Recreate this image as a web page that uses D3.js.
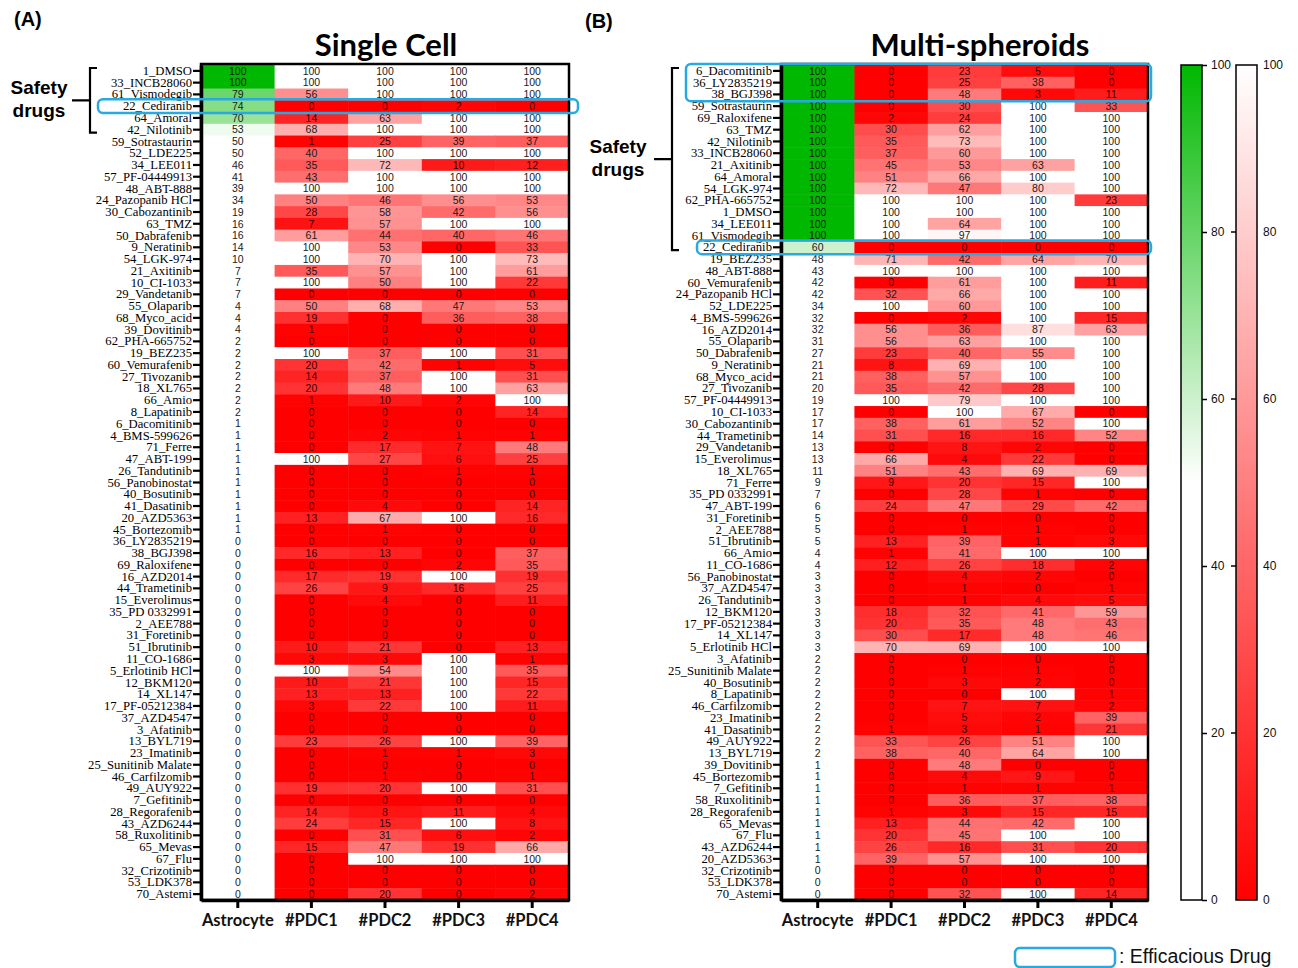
<!DOCTYPE html>
<html><head><meta charset="utf-8">
<script src="https://cdn.jsdelivr.net/npm/d3@7"></script>
<style>body{margin:0;background:#fff}</style>
</head><body>
<svg id="c" width="1298" height="968"></svg>
<script>
const columns = ["Astrocyte","#PDC1","#PDC2","#PDC3","#PDC4"];

const singleCellDrugs = ["1_DMSO","33_INCB28060","61_Vismodegib","22_Cediranib","64_Amoral","42_Nilotinib","59_Sotrastaurin","52_LDE225","34_LEE011","57_PF-04449913","48_ABT-888","24_Pazopanib HCl","30_Cabozantinib","63_TMZ","50_Dabrafenib","9_Neratinib","54_LGK-974","21_Axitinib","10_CI-1033","29_Vandetanib","55_Olaparib","68_Myco_acid","39_Dovitinib","62_PHA-665752","19_BEZ235","60_Vemurafenib","27_Tivozanib","18_XL765","66_Amio","8_Lapatinib","6_Dacomitinib","4_BMS-599626","71_Ferre","47_ABT-199","26_Tandutinib","56_Panobinostat","40_Bosutinib","41_Dasatinib","20_AZD5363","45_Bortezomib","36_LY2835219","38_BGJ398","69_Raloxifene","16_AZD2014","44_Trametinib","15_Everolimus","35_PD 0332991","2_AEE788","31_Foretinib","51_Ibrutinib","11_CO-1686","5_Erlotinib HCl","12_BKM120","14_XL147","17_PF-05212384","37_AZD4547","3_Afatinib","13_BYL719","23_Imatinib","25_Sunitinib Malate","46_Carfilzomib","49_AUY922","7_Gefitinib","28_Regorafenib","43_AZD6244","58_Ruxolitinib","65_Mevas","67_Flu","32_Crizotinib","53_LDK378","70_Astemi"];

const singleCellValues = [
[100,100,100,100,100],[100,100,100,100,100],[79,56,100,100,100],[74,0,0,2,0],[70,14,63,100,100],
[53,68,100,100,100],[50,1,25,39,37],[50,40,100,100,100],[46,35,72,10,12],[41,43,100,100,100],
[39,100,100,100,100],[34,50,46,56,53],[19,28,58,42,56],[16,7,57,100,100],[16,61,44,40,46],
[14,100,53,0,33],[10,100,70,100,73],[7,35,57,100,61],[7,100,50,100,22],[7,0,0,0,0],
[4,50,68,47,53],[4,19,0,36,38],[4,1,0,0,0],[2,0,0,0,0],[2,100,37,100,31],
[2,20,42,1,5],[2,14,37,100,31],[2,20,48,100,63],[2,1,10,2,100],[2,0,0,0,14],
[1,0,0,0,0],[1,0,2,1,1],[1,0,17,7,48],[1,100,27,6,25],[1,0,0,1,1],
[1,0,0,0,0],[1,0,0,0,0],[1,0,4,0,14],[1,13,67,100,16],[1,0,1,0,0],
[0,0,0,0,0],[0,16,13,0,37],[0,0,0,2,35],[0,17,19,100,19],[0,26,9,16,25],
[0,0,4,0,11],[0,0,0,0,0],[0,0,0,0,0],[0,0,0,0,0],[0,10,21,0,13],
[0,3,3,100,1],[0,100,54,100,35],[0,10,21,100,15],[0,13,13,100,22],[0,3,22,100,11],
[0,0,0,0,0],[0,0,0,0,0],[0,23,26,100,39],[0,0,1,1,3],[0,0,0,0,0],
[0,0,1,0,1],[0,19,20,100,31],[0,0,0,0,0],[0,14,8,11,4],[0,24,15,100,8],
[0,0,31,6,2],[0,15,47,19,66],[0,0,100,100,100],[0,0,0,0,0],[0,0,0,0,0],
[0,0,20,0,2]];

const spheroidDrugs = ["6_Dacomitinib","36_LY2835219","38_BGJ398","59_Sotrastaurin","69_Raloxifene","63_TMZ","42_Nilotinib","33_INCB28060","21_Axitinib","64_Amoral","54_LGK-974","62_PHA-665752","1_DMSO","34_LEE011","61_Vismodegib","22_Cediranib","19_BEZ235","48_ABT-888","60_Vemurafenib","24_Pazopanib HCl","52_LDE225","4_BMS-599626","16_AZD2014","55_Olaparib","50_Dabrafenib","9_Neratinib","68_Myco_acid","27_Tivozanib","57_PF-04449913","10_CI-1033","30_Cabozantinib","44_Trametinib","29_Vandetanib","15_Everolimus","18_XL765","71_Ferre","35_PD 0332991","47_ABT-199","31_Foretinib","2_AEE788","51_Ibrutinib","66_Amio","11_CO-1686","56_Panobinostat","37_AZD4547","26_Tandutinib","12_BKM120","17_PF-05212384","14_XL147","5_Erlotinib HCl","3_Afatinib","25_Sunitinib Malate","40_Bosutinib","8_Lapatinib","46_Carfilzomib","23_Imatinib","41_Dasatinib","49_AUY922","13_BYL719","39_Dovitinib","45_Bortezomib","7_Gefitinib","58_Ruxolitinib","28_Regorafenib","65_Mevas","67_Flu","43_AZD6244","20_AZD5363","32_Crizotinib","53_LDK378","70_Astemi"];

const spheroidValues = [
[100,0,23,5,0],[100,0,25,38,0],[100,0,48,3,11],[100,0,30,100,33],[100,2,24,100,100],
[100,30,62,100,100],[100,35,73,100,100],[100,37,60,100,100],[100,45,53,63,100],[100,51,66,100,100],
[100,72,47,80,100],[100,100,100,100,23],[100,100,100,100,100],[100,100,64,100,100],[100,100,97,100,100],
[60,0,0,0,0],[48,71,42,64,70],[43,100,100,100,100],[42,0,61,100,11],[42,32,66,100,100],
[34,100,60,100,100],[32,0,2,100,15],[32,56,36,87,63],[31,56,63,100,100],[27,23,40,55,100],
[21,8,69,100,100],[21,38,57,100,100],[20,35,42,28,100],[19,100,79,100,100],[17,0,100,67,0],
[17,38,61,52,100],[14,31,16,16,52],[13,0,8,2,0],[13,66,4,22,0],[11,51,43,69,69],
[9,9,20,15,100],[7,0,28,1,0],[6,24,47,29,42],[5,0,0,0,0],[5,0,1,1,0],
[5,13,39,1,3],[4,1,41,100,100],[4,12,26,18,2],[3,0,4,2,0],[3,0,1,0,1],
[3,0,1,4,5],[3,18,32,41,59],[3,20,35,48,43],[3,30,17,48,46],[3,70,69,100,100],
[2,0,0,0,0],[2,0,1,1,0],[2,0,3,2,0],[2,0,0,100,1],[2,0,7,7,2],
[2,0,5,2,39],[2,1,3,1,21],[2,33,26,51,100],[2,38,40,64,100],[1,0,48,0,0],
[1,0,4,9,0],[1,0,1,1,1],[1,0,36,37,38],[1,1,3,15,15],[1,13,44,42,100],
[1,20,45,100,100],[1,26,16,31,20],[1,39,57,100,100],[0,0,0,0,0],[0,0,0,0,0],
[0,0,32,100,14]];

const colorbarTicks = [0,20,40,60,80,100];
const efficaciousSingle = [["22_Cediranib","22_Cediranib"]];
const efficaciousSpheroid = [["6_Dacomitinib","38_BGJ398"],["22_Cediranib","22_Cediranib"]];

const svg = d3.select("#c");
const GREEN = "#00b800", BLUE = "#27aae1";
const green = d3.scaleLinear().domain([0,50,100]).range(["#ffffff","#ffffff",GREEN]).clamp(true);
const red = d3.scaleLinear().domain([0,100]).range(["#ff0000","#ffffff"]).clamp(true);

function heatmap(o){
  const x = d3.scaleBand().domain(columns).range([o.x0,o.x1]);
  const y = d3.scaleBand().domain(o.drugs).range([o.y0,o.y1]);
  const g = svg.append("g");
  const cells = [];
  o.values.forEach((row,i)=>row.forEach((v,j)=>cells.push({d:o.drugs[i],c:columns[j],v,j})));
  g.selectAll("rect.cell").data(cells).join("rect").attr("class","cell")
    .attr("x",d=>x(d.c)).attr("y",d=>y(d.d))
    .attr("width",x.bandwidth()+0.5).attr("height",y.bandwidth()+0.5)
    .attr("fill",d=>d.j===0?green(d.v):red(d.v));
  g.selectAll("text.val").data(cells).join("text").attr("class","val")
    .attr("x",d=>x(d.c)+x.bandwidth()/2).attr("y",d=>y(d.d)+y.bandwidth()/2)
    .attr("dy","0.36em").attr("text-anchor","middle")
    .attr("font-family","Liberation Sans, Arial, sans-serif").attr("font-size",10.5)
    .attr("fill",d=>(d.j>0&&d.v<30)?"#3a0000":"#1a1a1a").text(d=>d.v);
  g.append("rect").attr("x",o.x0).attr("y",o.y0-1).attr("width",o.x1-o.x0).attr("height",o.y1-o.y0+1)
    .attr("fill","none").attr("stroke","#000").attr("stroke-width",2.5);
  const ya = g.append("g").attr("transform",`translate(${o.x0},0)`)
    .call(d3.axisLeft(y).tickSize(8).tickSizeOuter(0).tickPadding(1));
  ya.select(".domain").attr("stroke-width",3.5);
  ya.selectAll(".tick line").attr("stroke-width",2.2);
  ya.selectAll("text").attr("font-family","Liberation Serif, Times New Roman, serif").attr("font-size",12.7).attr("fill","#000");
  const xa = g.append("g").attr("transform",`translate(0,${o.y1})`)
    .call(d3.axisBottom(x).tickSize(8).tickSizeOuter(0).tickPadding(6));
  xa.select(".domain").attr("stroke-width",3.5);
  xa.selectAll(".tick line").attr("stroke-width",3);
  xa.selectAll("text").attr("font-family","Lato, sans-serif").attr("font-weight","bold").attr("font-size",16.5).attr("fill","#111");
  svg.append("text").attr("x",o.tx).attr("y",56).attr("text-anchor","middle")
    .attr("font-family","Lato, sans-serif").attr("font-weight","bold").attr("font-size",31).text(o.title);
  o.boxes.forEach((b,k)=>{
    const top = y(b[0]) - 1, bot = y(b[1]) + y.bandwidth() + 1;
    const bx = o.boxX[k];
    svg.append("rect").attr("x",bx).attr("y",top).attr("width",o.boxR-bx).attr("height",bot-top)
      .attr("rx",5).attr("fill","none").attr("stroke",BLUE).attr("stroke-width",2.5);
  });
  const bt = y(o.drugs[0]) + 3, bb = y(o.drugs[o.safeEnd]) + y.bandwidth() - 3, bm = (bt+bb)/2;
  svg.append("path").attr("d",`M${o.bx+7},${bt} H${o.bx} V${bb} H${o.bx+7} M${o.bx},${bm} H${o.bx-18}`)
    .attr("fill","none").attr("stroke","#000").attr("stroke-width",2.2);
  svg.append("text").attr("x",o.sx).attr("y",bm-6).attr("text-anchor","middle")
    .attr("font-family","Liberation Sans, Arial, sans-serif").attr("font-weight","bold").attr("font-size",19).text("Safety");
  svg.append("text").attr("x",o.sx).attr("y",bm+17).attr("text-anchor","middle")
    .attr("font-family","Liberation Sans, Arial, sans-serif").attr("font-weight","bold").attr("font-size",19).text("drugs");
}

heatmap({drugs:singleCellDrugs, values:singleCellValues, x0:201, x1:569, y0:65, y1:900,
  title:"Single Cell", tx:386, boxes:efficaciousSingle, boxX:[98], boxR:578,
  safeEnd:5, bx:90, sx:39});
heatmap({drugs:spheroidDrugs, values:spheroidValues, x0:781, x1:1148, y0:65, y1:900,
  title:"Multi-spheroids", tx:980, boxes:efficaciousSpheroid, boxX:[686,697], boxR:1151,
  safeEnd:15, bx:672, sx:618});

svg.append("text").attr("x",14).attr("y",26).attr("font-family","Liberation Sans, Arial, sans-serif")
  .attr("font-weight","bold").attr("font-size",20).text("(A)");
svg.append("text").attr("x",585).attr("y",28).attr("font-family","Liberation Sans, Arial, sans-serif")
  .attr("font-weight","bold").attr("font-size",20).text("(B)");

const defs = svg.append("defs");
const gg = defs.append("linearGradient").attr("id","gG").attr("x1",0).attr("y1",1).attr("x2",0).attr("y2",0);
[0,50,100].forEach(v=>gg.append("stop").attr("offset",v+"%").attr("stop-color",green(v)));
const rg = defs.append("linearGradient").attr("id","gR").attr("x1",0).attr("y1",1).attr("x2",0).attr("y2",0);
[0,100].forEach(v=>rg.append("stop").attr("offset",v+"%").attr("stop-color",red(v)));
const cy = d3.scaleLinear().domain([0,100]).range([900,65]);
function colorbar(x, grad, leftTicks){
  svg.append("rect").attr("x",x).attr("y",cy(100)).attr("width",21).attr("height",cy(0)-cy(100))
    .attr("fill",`url(#${grad})`).attr("stroke","#000").attr("stroke-width",1.5);
  const a = svg.append("g").attr("transform",`translate(${x+21},0)`)
    .call(d3.axisRight(cy).tickValues(colorbarTicks).tickSize(leftTicks?0:5).tickPadding(leftTicks?6:4));
  a.select(".domain").remove();
  a.selectAll("text").attr("font-family","Liberation Sans, Arial, sans-serif").attr("font-size",12).attr("fill","#111");
  a.selectAll(".tick line").attr("stroke-width",1.5);
  if(leftTicks){
    svg.append("g").selectAll("line").data(colorbarTicks.filter(t=>t>0&&t<100)).join("line")
      .attr("x1",x-5).attr("x2",x).attr("y1",d=>cy(d)).attr("y2",d=>cy(d)).attr("stroke","#000").attr("stroke-width",1.5);
  }
}
colorbar(1181,"gG",false);
colorbar(1236,"gR",true);

svg.append("rect").attr("x",1015).attr("y",948).attr("width",100).attr("height",19).attr("rx",5)
  .attr("fill","none").attr("stroke",BLUE).attr("stroke-width",2.5);
svg.append("text").attr("x",1119).attr("y",963).attr("font-family","Liberation Sans, Arial, sans-serif")
  .attr("font-size",19.5).attr("fill","#111").text(": Efficacious Drug");
</script>
</body></html>
